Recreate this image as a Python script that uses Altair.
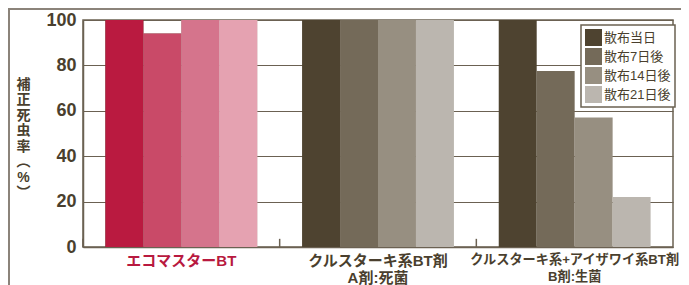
import altair as alt
import pandas as pd

groups = ["エコマスターBT", "クルスターキ系BT剤|A剤:死菌", "クルスターキ系+アイザワイ系BT剤|B剤:生菌"]
series = ["散布当日", "散布7日後", "散布14日後", "散布21日後"]
values_eco = [100, 94, 100, 100]
values_a = [100, 100, 100, 100]
values_b = [100, 77.5, 57, 22]
reds = ["#ba1a40", "#c94a68", "#d5748c", "#e5a2b1"]
browns = ["#4e4330", "#746a59", "#978f81", "#bbb6af"]
y_ticks = [0, 20, 40, 60, 80, 100]

DARK = "#4a3f2e"
LINE = "#6b6152"
FONT = "Liberation Sans, Noto Sans CJK JP"

rows = []
for g, vals in zip(groups, [values_eco, values_a, values_b]):
    for i, (s, v) in enumerate(zip(series, vals)):
        rows.append({"group": g, "series": s, "value": v, "fill": reds[i]})
df = pd.DataFrame(rows)
df_eco = df[df["group"] == groups[0]]
df_groups = pd.DataFrame({"group": groups})

x_enc = alt.X(
    "group:N", sort=groups,
    scale=alt.Scale(paddingInner=0, paddingOuter=0),
    axis=alt.Axis(
        title=None, ticks=False, labelAngle=0, labelLimit=400,
        labelExpr="split(datum.label, '|')",
        labelFontSize={"expr": "indexof(datum.value, 'アイザワイ') >= 0 ? 13.2 : 15"},
        labelFontWeight="bold", labelFont=FONT,
        labelColor={"expr": "datum.value == 'エコマスターBT' ? '#b8193f' : '#4a3f2e'"},
        labelLineHeight=17, labelPadding=6, labelBaseline="top",
        domainColor=LINE, domainWidth=1.5,
    ),
)
y_enc = alt.Y(
    "value:Q", scale=alt.Scale(domain=[0, 100]),
    axis=alt.Axis(
        values=y_ticks, ticks=False,
        title=["補", "正", "死", "虫", "率", "︵", "%", "︶"],
        titleAngle=0, titleX=-60, titleY=57, titleAlign="center", titleBaseline="top",
        titleFontSize=14, titleFontWeight="bold", titleColor=DARK, titleFont=FONT,
        titleLineHeight=15.5,
        labelFontSize=18, labelFontWeight="bold", labelColor=DARK, labelFont=FONT,
        labelPadding=7, domainColor=LINE, domainWidth=1.5,
        gridColor=LINE, gridWidth=1.2,
    ),
)
xoff = alt.XOffset("series:N", sort=series, scale=alt.Scale(paddingOuter=0.59, paddingInner=0))

bars = alt.Chart(df).mark_bar().encode(
    x=x_enc, y=y_enc, xOffset=xoff,
    color=alt.Color(
        "series:N", sort=series, scale=alt.Scale(domain=series, range=browns),
        legend=alt.Legend(
            title=None, orient="none", legendX=498, legendY=5,
            symbolType="square", symbolSize=289, symbolStrokeWidth=0,
            labelFontSize=13, labelColor=DARK, labelFont=FONT, labelOffset=2,
            rowPadding=2, padding=4, fillColor="white", strokeColor=LINE,
        ),
    ),
)
red_bars = alt.Chart(df_eco).mark_bar().encode(
    x=alt.X("group:N", sort=groups), y="value:Q", xOffset=xoff,
    color=alt.Color("fill:N", scale=None),
)
ticks = alt.Chart(df_groups).mark_rule(color=LINE, strokeWidth=1.5).encode(
    x=alt.X("group:N", sort=groups, bandPosition=0),
    y=alt.datum(0), y2=alt.datum(3.6),
)
top_line = alt.Chart(df_groups).mark_rule(color="#8a8278", strokeWidth=1.5).encode(
    x=alt.value(-75), x2=alt.value(598), y=alt.value(-11)
)
left_line = alt.Chart(df_groups).mark_rule(color="#8a8278", strokeWidth=1.5).encode(
    x=alt.value(-74), y=alt.value(-11), y2=alt.value(270)
)

chart = alt.layer(top_line, left_line, bars, red_bars, ticks).resolve_scale(
    color="independent"
).properties(
    width=590, height=227,
    autosize=alt.AutoSizeParams(type="none"),
    padding={"left": 75, "top": 12, "right": 8, "bottom": 38},
    background="white",
).configure_view(
    stroke=LINE, strokeWidth=1.5
).configure_legend(
    strokeWidth=1.5
)

chart.save("out.html", embed_options={"renderer": "svg", "actions": False})
